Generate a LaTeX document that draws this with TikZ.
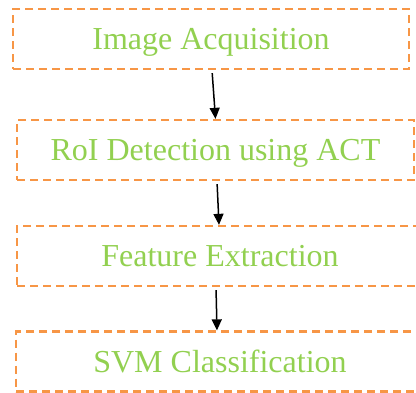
\documentclass[tikz,border=0pt]{standalone}
\usepackage{fontspec}
\setmainfont{Liberation Serif}
\usetikzlibrary{arrows.meta,positioning}
\definecolor{boxorange}{RGB}{247,150,70}
\definecolor{txtgreen}{RGB}{146,208,80}

\begin{document}
\begin{tikzpicture}[x=1pt,y=-1pt,
    stage/.style={draw=boxorange,line width=2.3pt,dash pattern=on 8pt off 5pt,
      minimum height=60pt,inner sep=0pt,text depth=0pt,text=txtgreen,
      font=\fontsize{32}{38}\selectfont},
    flow/.style={line width=1.5pt,shorten <=3pt,-{Triangle[length=11pt,width=10pt]}}]
          \clip (0,0) rectangle (416,392);

          \node[stage,minimum width=396pt] (acq) at (211,39) {Image Acquisition};
          \node[stage,minimum width=397pt] (roi) at (215.5,150) {RoI Detection using ACT};
          \node[stage,minimum width=406pt] (feat) at (220,256) {Feature Extraction};
          \node[stage,minimum width=408pt] (svm) at (220,361.5) {SVM Classification};

          \draw[flow] ([xshift=1pt]acq.south) -- (roi.north);
          \draw[flow] ([xshift=1.5pt]roi.south) -- ([xshift=-1pt]feat.north);
          \draw[flow] ([xshift=-4pt]feat.south) -- ([xshift=-3pt]svm.north);
        \end{tikzpicture}
\end{document}
